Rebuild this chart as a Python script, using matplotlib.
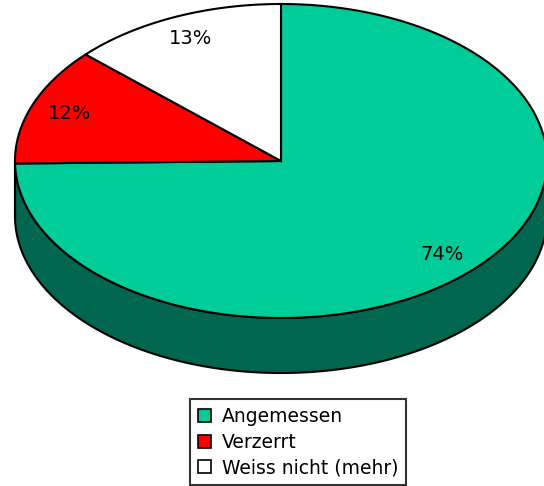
import numpy as np
import matplotlib.pyplot as plt
from matplotlib.patches import Polygon, Patch

labels = ['Angemessen', 'Verzerrt', 'Weiss nicht (mehr)']
values = [74, 12, 13]
pct_labels = ['74%', '12%', '13%']
top_colors = ['#00CC99', '#FF0000', '#FFFFFF']
side_colors = ['#006650', '#800000', '#808080']

# pie geometry in pixel coords (y down)
cx, cy = 281, 161
rx, ry = 266, 157
depth = 55


def ellipse_pts(a0, a1, yoff=0, n=200):
    t = np.radians(np.linspace(a0, a1, n))
    return np.column_stack([cx + rx * np.cos(t), cy - ry * np.sin(t) + yoff])


fig = plt.figure(figsize=(5.44, 4.86), dpi=100)
ax = fig.add_axes([0, 0, 1, 1])
ax.set_xlim(0, 544)
ax.set_ylim(486, 0)
ax.axis('off')

total = sum(values)
bounds = []
start = 90.0
for v in values:
    end = start - v / total * 360.0
    bounds.append((start, end))
    start = end

# side walls (front half only)
for (a0, a1), sc in zip(bounds, side_colors):
    s0, s1 = min(a0, 0.0), max(a1, -180.0)
    if s0 <= s1:
        continue
    top = ellipse_pts(s0, s1)
    bot = ellipse_pts(s1, s0, depth)
    ax.add_patch(Polygon(np.vstack([top, bot]), closed=True, facecolor=sc,
                         edgecolor='black', linewidth=1.5, zorder=1))

# top faces
for (a0, a1), tc in zip(bounds, top_colors):
    pts = np.vstack([[cx, cy], ellipse_pts(a0, a1)])
    ax.add_patch(Polygon(pts, closed=True, facecolor=tc, edgecolor='black',
                         linewidth=1.5, joinstyle='miter', zorder=2))

# percentage labels
for (a0, a1), txt in zip(bounds, pct_labels):
    m = np.radians((a0 + a1) / 2)
    x = cx + 0.85 * rx * np.cos(m)
    y = cy - 0.85 * ry * np.sin(m)
    ax.text(x, y, txt, ha='center', va='center', fontsize=14,
            family='DejaVu Sans', zorder=3)

handles = [Patch(facecolor=c, edgecolor='black', linewidth=1.2) for c in top_colors]
leg = fig.legend(handles, labels, loc='upper center', bbox_to_anchor=(0.548, 0.179),
                 fontsize=13.5, frameon=True, fancybox=False, handlelength=0.7,
                 handleheight=0.7, handletextpad=0.55, labelspacing=0.36,
                 borderpad=0.42, borderaxespad=0)
leg.get_frame().set_edgecolor('black')
leg.get_frame().set_linewidth(1.5)

fig.savefig('out.png', dpi=100)
